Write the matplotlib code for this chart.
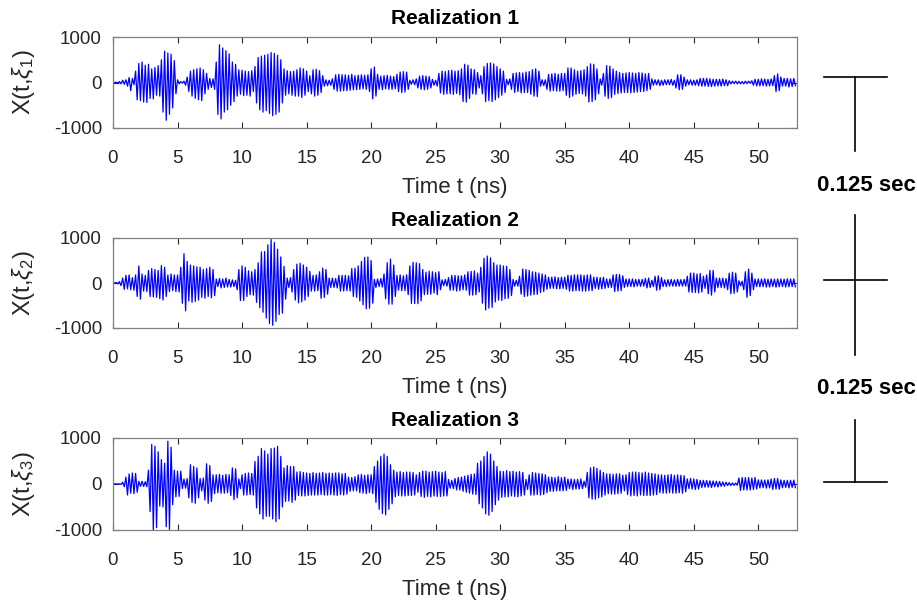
import numpy as np
import matplotlib
matplotlib.use("Agg")
import matplotlib.pyplot as plt
from matplotlib.lines import Line2D

plt.rcParams["font.family"] = ["Liberation Sans", "DejaVu Sans"]
plt.rcParams["mathtext.fontset"] = "custom"
plt.rcParams["mathtext.rm"] = "Liberation Sans"
plt.rcParams["mathtext.it"] = "Liberation Sans:italic"
plt.rcParams["axes.unicode_minus"] = False

# Signed peak values of each half cycle, one row per nanosecond (step 0.125 ns)
dt = 0.125

realization_1 = [
    0, 0, 5, -10, 20, -30, 50, -40,
    60, -80, 110, -180, 90, -50, 250, -380,
    420, -400, 450, -430, 380, -440, 400, -350,
    300, -360, 330, -280, 370, -300, 500, -650,
    690, -830, 650, -700, 620, -560, 480, -250,
    60, -30, 20, -15, 30, -60, 120, -200,
    250, -300, 280, -350, 300, -380, 320, -400,
    280, -250, 200, -150, 90, -110, 80, -150,
    450, -700, 830, -800, 760, -650, 700, -600,
    630, -500, 450, -420, 400, -300, 280, -260,
    270, -290, 250, -280, 240, -300, 260, -200,
    350, -450, 550, -600, 580, -650, 600, -620,
    620, -680, 660, -730, 640, -700, 600, -650,
    500, -450, 300, -280, 260, -250, 240, -280,
    250, -300, 280, -300, 320, -330, 300, -280,
    250, -200, 150, -250, 280, -300, 290, -280,
    260, -220, 150, -80, 60, -70, 50, -60,
    80, -150, 170, -190, 180, -190, 170, -180,
    170, -180, 160, -170, 180, -160, 150, -160,
    160, -150, 170, -140, 160, -150, 170, -200,
    300, -360, 340, -300, 180, -150, 140, -160,
    150, -140, 160, -150, 140, -150, 130, -140,
    180, -200, 230, -220, 240, -210, 230, -150,
    50, -40, 60, -50, 80, -120, 140, -150,
    150, -160, 140, -150, 130, -120, 70, -60,
    50, -80, 200, -230, 250, -260, 240, -250,
    260, -250, 270, -260, 250, -240, 260, -270,
    300, -420, 400, -430, 380, -350, 300, -250,
    280, -260, 220, -120, 150, -250, 350, -420,
    420, -400, 430, -420, 410, -380, 350, -330,
    300, -280, 250, -220, 70, -50, 80, -150,
    200, -220, 210, -200, 220, -230, 210, -220,
    230, -220, 240, -260, 280, -300, 300, -310,
    250, -80, 60, -70, 60, -150, 180, -190,
    190, -180, 200, -190, 180, -190, 200, -180,
    200, -280, 320, -330, 320, -300, 280, -260,
    250, -240, 260, -250, 280, -300, 350, -430,
    410, -420, 400, -380, 300, -250, 80, -60,
    200, -300, 370, -350, 360, -330, 300, -260,
    250, -240, 220, -230, 200, -220, 210, -220,
    220, -230, 210, -220, 200, -210, 220, -200,
    210, -200, 190, -180, 200, -150, 80, -60,
    60, -50, 60, -70, 50, -60, 60, -50,
    60, -50, 70, -60, 50, -120, 170, -160,
    170, -150, 120, -80, 60, -50, 60, -60,
    50, -60, 60, -70, 90, -80, 90, -80,
    90, -85, 80, -90, 70, -80, 70, -75,
    70, -80, 75, -70, 60, -70, 40, -30,
    30, -25, 30, -30, 25, -30, 20, -30,
    30, -25, 30, -20, 40, -60, 70, -75,
    70, -75, 80, -70, 75, -80, 70, -75,
    80, -70, 150, -200, 190, -180, 120, -80,
    90, -80, 90, -100, 80, -90, 90, -70,
]

realization_2 = [
    0, 0, 10, -20, 30, -60, 110, -140,
    170, -130, 180, -150, 120, -160, 180, -300,
    380, -360, 200, -180, 170, -190, 280, -300,
    320, -310, 300, -320, 280, -350, 390, -380,
    350, -300, 180, -190, 200, -170, 180, -190,
    180, -200, 350, -450, 650, -620, 480, -400,
    400, -430, 380, -410, 360, -380, 350, -320,
    300, -340, 320, -300, 350, -330, 300, -280,
    90, -80, 100, -110, 90, -100, 110, -90,
    80, -90, 70, -80, 60, -150, 300, -390,
    380, -390, 350, -300, 270, -260, 250, -270,
    300, -430, 450, -550, 690, -650, 700, -780,
    850, -900, 970, -940, 900, -850, 750, -700,
    580, -670, 370, -360, 110, -100, 120, -200,
    300, -380, 420, -440, 440, -420, 400, -380,
    350, -300, 260, -180, 170, -180, 180, -170,
    250, -340, 330, -320, 300, -250, 110, -100,
    110, -100, 100, -110, 170, -180, 170, -180,
    170, -170, 160, -180, 320, -300, 330, -320,
    380, -400, 480, -485, 570, -575, 580, -560,
    500, -450, 80, -100, 90, -80, 100, -90,
    200, -350, 450, -470, 530, -470, 400, -300,
    170, -160, 180, -170, 160, -170, 180, -260,
    380, -455, 460, -455, 450, -460, 430, -400,
    300, -260, 240, -250, 260, -250, 250, -220,
    230, -260, 250, -150, 70, -60, 80, -70,
    120, -160, 170, -160, 170, -180, 160, -170,
    160, -150, 180, -160, 250, -270, 260, -270,
    270, -260, 220, -200, 350, -450, 550, -600,
    600, -560, 560, -540, 450, -420, 400, -380,
    400, -390, 380, -350, 370, -340, 300, -280,
    80, -70, 60, -70, 150, -250, 310, -300,
    300, -290, 280, -270, 250, -260, 240, -250,
    220, -210, 200, -190, 180, -140, 130, -120,
    130, -120, 140, -130, 120, -130, 130, -120,
    130, -140, 170, -180, 170, -180, 180, -170,
    180, -170, 180, -180, 170, -180, 180, -170,
    180, -170, 130, -120, 130, -140, 120, -130,
    130, -120, 90, -100, 90, -100, 180, -190,
    190, -180, 190, -170, 160, -100, 90, -80,
    90, -80, 90, -85, 80, -70, 80, -75,
    80, -70, 100, -110, 110, -100, 60, -80,
    150, -160, 160, -150, 120, -80, 70, -80,
    75, -70, 80, -70, 70, -75, 80, -70,
    75, -70, 80, -70, 150, -200, 220, -210,
    220, -210, 200, -220, 210, -200, 150, -120,
    180, -240, 280, -270, 280, -200, 110, -100,
    110, -100, 110, -110, 100, -150, 220, -240,
    240, -230, 220, -200, 50, -60, 40, -150,
    250, -320, 310, -280, 220, -150, 90, -80,
    90, -85, 90, -80, 95, -90, 85, -90,
    90, -80, 85, -95, 90, -85, 90, -80,
    85, -90, 95, -85, 90, -80, 90, -85,
]

realization_3 = [
    0, 0, 5, -5, 5, -10, 40, -60,
    150, -240, 220, -200, 240, -210, 230, -180,
    60, -50, 60, -55, 50, -60, 300, -600,
    860, -1000, 820, -950, 700, -480, 530, -500,
    450, -930, 930, -990, 800, -450, 300, -280,
    280, -270, 280, -100, 110, -90, 120, -300,
    420, -400, 380, -420, 350, -300, 120, -150,
    130, -350, 440, -420, 400, -380, 200, -210,
    200, -190, 210, -200, 190, -200, 210, -190,
    200, -250, 350, -340, 330, -300, 110, -100,
    200, -240, 230, -240, 240, -230, 230, -240,
    490, -520, 600, -650, 770, -760, 720, -700,
    650, -700, 770, -760, 780, -820, 820, -760,
    600, -500, 350, -380, 400, -370, 380, -400,
    380, -350, 260, -250, 270, -260, 250, -260,
    240, -250, 230, -240, 250, -240, 230, -240,
    240, -230, 250, -240, 230, -240, 240, -230,
    230, -240, 240, -250, 240, -230, 220, -240,
    230, -220, 150, -160, 140, -150, 160, -150,
    200, -190, 210, -200, 190, -210, 200, -190,
    200, -210, 380, -400, 500, -550, 600, -640,
    650, -670, 600, -550, 420, -430, 300, -280,
    260, -250, 270, -260, 250, -260, 260, -250,
    260, -250, 250, -240, 200, -180, 250, -270,
    280, -290, 280, -270, 260, -280, 270, -260,
    280, -270, 260, -270, 250, -260, 270, -260,
    100, -90, 80, -100, 120, -130, 140, -130,
    150, -160, 170, -180, 190, -200, 210, -220,
    220, -230, 450, -430, 500, -520, 600, -650,
    700, -680, 650, -600, 500, -450, 380, -350,
    280, -290, 270, -280, 290, -280, 270, -260,
    280, -270, 260, -280, 270, -260, 250, -240,
    100, -120, 200, -240, 250, -240, 240, -230,
    230, -240, 220, -230, 200, -190, 150, -160,
    150, -160, 140, -150, 160, -150, 140, -150,
    150, -140, 110, -100, 110, -120, 100, -110,
    100, -110, 110, -100, 60, -70, 250, -300,
    350, -330, 370, -330, 340, -300, 300, -280,
    250, -240, 220, -210, 220, -220, 210, -220,
    220, -210, 220, -200, 190, -150, 200, -230,
    250, -260, 260, -250, 260, -260, 250, -240,
    240, -250, 260, -250, 240, -250, 230, -240,
    220, -230, 200, -190, 200, -200, 190, -200,
    200, -190, 210, -200, 190, -200, 200, -190,
    190, -200, 180, -170, 110, -100, 120, -110,
    110, -120, 100, -110, 80, -75, 80, -70,
    75, -70, 70, -75, 65, -60, 60, -65,
    55, -50, 45, -50, 40, -35, 30, -35,
    25, -30, 20, -25, 130, -140, 140, -130,
    140, -130, 140, -130, 130, -120, 140, -110,
    90, -85, 90, -80, 85, -90, 90, -85,
    110, -120, 120, -110, 120, -115, 90, -80,
    80, -75, 80, -85, 80, -75, 85, -80,
]

series = [realization_1, realization_2, realization_3]
titles = ["Realization 1", "Realization 2", "Realization 3"]
ylabels = [r"X(t,$\xi_1$)", r"X(t,$\xi_2$)", r"X(t,$\xi_3$)"]
xticks = [0, 5, 10, 15, 20, 25, 30, 35, 40, 45, 50]
yticks = [-1000, 0, 1000]

W, H = 917, 603
fig = plt.figure(figsize=(W / 100, H / 100), dpi=100)

# axes boxes in pixel coordinates (left, top, right, bottom)
boxes = [(113, 37, 797, 128), (113, 238, 797, 328), (113, 438, 797, 530)]

axis_grey = "#262626"
for vals, title, ylab, (l, t, r, b) in zip(series, titles, ylabels, boxes):
    ax = fig.add_axes([l / W, 1 - b / H, (r - l) / W, (b - t) / H])
    y = np.array(vals, dtype=float)
    x = np.arange(len(y)) * dt
    ax.plot(x, y, color="#0000ff", lw=0.9)
    ax.set_xlim(0, 53)
    ax.set_ylim(-1000, 1000)
    ax.set_xticks(xticks)
    ax.set_yticks(yticks)
    ax.tick_params(direction="in", length=4, width=0.8, top=True, right=True,
                   labelsize=13.5, colors=axis_grey)
    ax.tick_params(axis="x", pad=16)
    ax.tick_params(axis="y", pad=8)
    for s in ax.spines.values():
        s.set_color("#808080")
        s.set_linewidth(0.9)
    ax.set_title(title, fontsize=15, fontweight="bold", color="black", pad=9)
    ax.set_xlabel("Time t (ns)", fontsize=16, color=axis_grey, labelpad=7)
    ax.set_ylabel(ylab, fontsize=17, color=axis_grey, labelpad=12)


def fig_line(x0, y0, x1, y1):
    fig.add_artist(Line2D([x0 / W, x1 / W], [1 - y0 / H, 1 - y1 / H],
                          transform=fig.transFigure, color="black", lw=1.2))


# time-spacing markers on the right
fig_line(824, 77, 887, 77)
fig_line(855, 77, 855, 151)
fig_line(855, 215, 855, 355)
fig_line(824, 280, 887, 280)
fig_line(855, 420, 855, 482)
fig_line(824, 482, 887, 482)
for yc in (186, 388):
    fig.text(866 / W, 1 - yc / H, "0.125 sec", ha="center", va="center",
             fontsize=16, fontweight="bold", color="black")

fig.savefig("out.png", dpi=100)
